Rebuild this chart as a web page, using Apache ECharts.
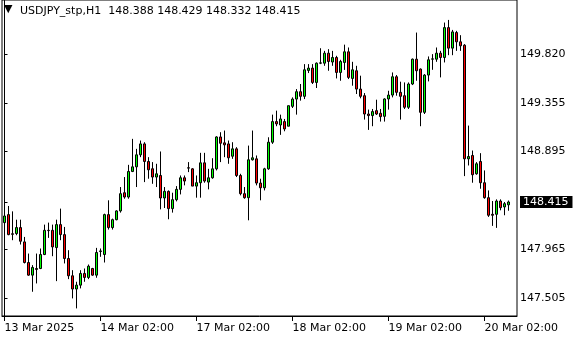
<!DOCTYPE html>
<html><head><meta charset="utf-8">
<script src="https://cdn.jsdelivr.net/npm/echarts@6/dist/echarts.min.js"></script>
<style>html,body{margin:0;padding:0;background:#fff}#c{width:580px;height:340px}</style>
</head><body><div id="c"></div>
<script>
const symbolName = 'USDJPY_stp,H1';
const opens = [148.219,148.295,148.113,148.115,148.172,148.036,147.840,147.720,147.783,147.783,147.916,148.146,148.146,147.982,148.200,148.105,147.878,147.714,147.588,147.625,147.736,147.698,147.783,147.720,147.945,147.916,148.295,148.172,148.247,148.330,148.503,148.462,148.705,148.749,148.863,148.967,148.800,148.731,148.652,148.667,148.453,148.516,148.352,148.437,148.535,148.645,148.740,148.730,148.566,148.598,148.787,148.604,148.645,148.730,149.033,148.977,148.967,148.850,148.920,148.667,148.494,148.456,148.816,148.825,148.595,148.550,148.730,148.983,149.179,149.147,149.179,149.135,149.324,149.393,149.463,149.419,149.665,149.687,149.551,149.734,149.734,149.829,149.745,149.788,149.646,149.741,149.842,149.589,149.662,149.488,149.425,149.251,149.236,149.283,149.258,149.229,149.394,149.431,149.605,149.457,149.425,149.315,149.536,149.772,149.678,149.267,149.621,149.772,149.772,149.829,149.788,150.072,149.877,150.025,149.937,149.905,148.825,148.857,148.683,148.800,148.598,148.456,148.298,148.298,148.424,148.368,148.388];
const closes = [148.282,148.105,148.108,148.172,148.042,147.840,147.720,147.793,147.774,147.916,148.146,148.143,147.988,148.200,148.105,147.878,147.714,147.588,147.625,147.736,147.698,147.805,147.720,147.935,147.950,148.295,148.172,148.247,148.330,148.494,148.462,148.705,148.749,148.863,148.967,148.800,148.721,148.652,148.683,148.453,148.516,148.352,148.437,148.535,148.645,148.614,148.737,148.566,148.598,148.787,148.614,148.645,148.730,149.033,148.973,148.958,148.835,148.920,148.667,148.494,148.456,148.816,148.835,148.595,148.550,148.730,148.983,149.179,149.157,149.204,149.109,149.330,149.393,149.463,149.419,149.671,149.687,149.551,149.734,149.737,149.829,149.750,149.788,149.646,149.750,149.842,149.599,149.671,149.488,149.419,149.251,149.236,149.274,149.251,149.226,149.394,149.431,149.605,149.457,149.419,149.315,149.536,149.772,149.662,149.267,149.621,149.766,149.775,149.829,149.788,150.072,149.877,150.031,149.937,149.899,148.825,148.847,148.674,148.778,148.598,148.456,148.289,148.289,148.424,148.361,148.399,148.415];
const lows = [148.083,148.099,148.052,148.099,148.011,147.831,147.714,147.562,147.641,147.777,147.910,148.074,147.900,147.663,148.052,147.831,147.682,147.499,147.404,147.594,147.657,147.682,147.714,147.695,147.894,147.840,148.153,148.153,148.241,148.314,148.446,148.446,148.699,148.557,148.841,148.604,148.636,148.588,148.557,148.345,148.358,148.251,148.314,148.421,148.487,148.573,148.699,148.566,148.456,148.456,148.598,148.535,148.636,148.715,148.794,148.841,148.778,148.825,148.652,148.478,148.446,148.241,148.809,148.573,148.431,148.525,148.721,148.967,149.135,149.053,149.087,149.135,149.308,149.245,149.378,149.393,149.640,149.536,149.498,149.725,149.709,149.662,149.709,149.589,149.567,149.670,149.583,149.520,149.441,149.400,149.198,149.100,149.135,149.242,149.179,149.179,149.293,149.409,149.425,149.198,149.299,149.299,149.526,149.567,149.135,149.251,149.561,149.671,149.747,149.599,149.741,149.810,149.810,149.851,149.851,148.661,148.762,148.598,148.674,148.541,148.446,148.273,148.188,148.169,148.336,148.289,148.332];
const highs = [148.367,148.377,148.326,148.247,148.247,148.083,147.925,147.815,147.925,147.973,148.200,148.219,148.200,148.247,148.352,148.178,147.957,147.767,147.657,147.767,147.783,147.821,147.789,147.979,147.973,148.304,148.431,148.257,148.336,148.557,148.652,148.768,149.015,148.920,148.999,148.983,148.841,148.794,148.778,148.895,148.557,148.525,148.503,148.566,148.667,148.667,148.794,148.737,148.667,148.882,148.882,148.730,148.831,149.040,149.078,149.094,148.999,148.983,148.936,148.683,148.557,148.951,149.094,148.857,148.636,148.740,149.030,149.245,149.283,149.245,149.204,149.330,149.409,149.488,149.536,149.725,149.725,149.725,149.741,149.876,149.851,149.867,149.851,149.804,149.766,149.910,149.883,149.747,149.709,149.615,149.450,149.293,149.299,149.387,149.299,149.400,149.472,149.646,149.621,149.558,149.551,149.551,149.778,150.025,149.684,149.630,149.798,149.820,149.883,149.851,150.120,150.145,150.050,150.041,150.000,149.915,149.141,148.904,148.794,148.879,148.715,148.525,148.424,148.440,148.440,148.415,148.429];
const timeTickIndex = [0, 24, 48, 72, 96, 120];
const timeTickLabels = ['13 Mar 2025', '14 Mar 02:00', '17 Mar 02:00', '18 Mar 02:00', '19 Mar 02:00', '20 Mar 02:00'];
const priceTicks = [147.505, 147.965, 148.895, 149.355, 149.820];

const n = opens.length;
const last = n - 1;
const currentPrice = closes[last];
const candles = opens.map((o, i) => [i, o, closes[i], lows[i], highs[i]]);
const FONT = 'DejaVu Sans';

const chart = echarts.init(document.getElementById('c'), null, {renderer: 'canvas'});
chart.setOption({
  animation: false,
  backgroundColor: '#fff',
  title: [
    {text: '\u25BC', left: 4, top: 4, padding: 0, textStyle: {fontFamily: FONT, fontSize: 11, fontWeight: 'normal', color: '#000'}},
    {text: symbolName + '  ' + [opens[last], highs[last], lows[last], closes[last]].map(v => v.toFixed(3)).join(' '),
     left: 20, top: 6, padding: 0,
     textStyle: {fontFamily: FONT, fontSize: 11, fontWeight: 'normal', color: '#000'}}
  ],
  grid: {left: 2, right: 63, top: -1, bottom: 24, show: true, borderColor: '#000', borderWidth: 1, backgroundColor: 'transparent'},
  xAxis: {
    type: 'value', min: -0.625, max: 128.125,
    splitLine: {show: false},
    axisLine: {show: true, lineStyle: {color: '#000'}},
    axisTick: {show: true, length: 5, lineStyle: {color: '#000'}, customValues: timeTickIndex},
    axisLabel: {
      customValues: timeTickIndex, align: 'left', margin: 7,
      fontFamily: FONT, fontSize: 11, color: '#000',
      formatter: v => timeTickLabels[timeTickIndex.indexOf(Math.round(v))] || ''
    }
  },
  yAxis: {
    type: 'value', position: 'right', scale: true,
    min: 147.3317, max: 150.3343,
    splitLine: {show: false},
    axisLine: {show: true, lineStyle: {color: '#000'}},
    axisTick: {show: true, length: 3, lineStyle: {color: '#000'}, customValues: priceTicks.concat([currentPrice])},
    axisLabel: {
      customValues: priceTicks.concat([currentPrice]), margin: 3,
      fontFamily: FONT, fontSize: 11, color: '#000',
      formatter: v => Math.abs(v - currentPrice) < 1e-6 ? '{hl|' + v.toFixed(3) + '}' : v.toFixed(3),
      rich: {hl: {backgroundColor: '#000', color: '#fff', fontFamily: FONT, fontSize: 11, padding: [1, 4, 0, 3]}}
    }
  },
  series: [{
    type: 'candlestick',
    data: candles,
    encode: {x: 0, y: [1, 2, 3, 4]},
    barWidth: 2,
    itemStyle: {color: '#00ff00', color0: '#ff0000', borderColor: '#000', borderColor0: '#000', borderWidth: 1}
  }]
});
</script></body></html>
